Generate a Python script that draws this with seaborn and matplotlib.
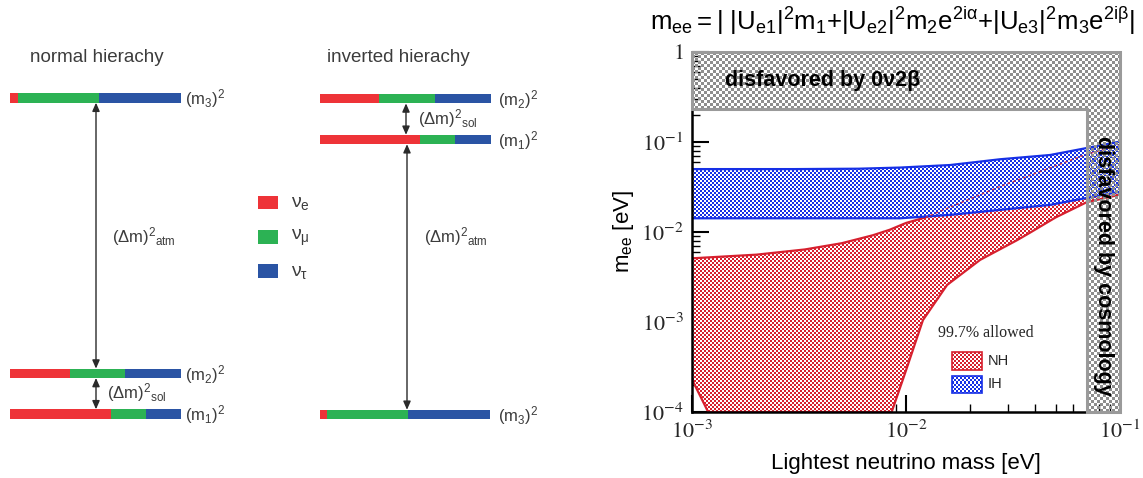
import numpy as np
import matplotlib
matplotlib.use("Agg")
import matplotlib.pyplot as plt
import seaborn as sns
from matplotlib.patches import Polygon, Rectangle
from matplotlib.image import AxesImage
from matplotlib.colors import to_rgb

# ---------------- data ----------------
# flavour content (nu_e, nu_mu, nu_tau) of each mass eigenstate
flavor_names = [r"$\mathrm{\nu_e}$", r"$\mathrm{\nu_\mu}$", r"$\mathrm{\nu_\tau}$"]
content_m1 = [0.59, 0.205, 0.205]
content_m2 = [0.35, 0.325, 0.325]
content_m3 = [0.045, 0.475, 0.48]
state_labels = [r"$\mathrm{(m_1)^2}$", r"$\mathrm{(m_2)^2}$", r"$\mathrm{(m_3)^2}$"]
splitting_labels = [r"$\mathrm{(\Delta m)^2{}_{sol}}$", r"$\mathrm{(\Delta m)^2{}_{atm}}$"]
hierarchy_titles = ["normal hierachy", "inverted hierachy"]

# m_ee allowed regions (eV) vs lightest neutrino mass (eV)
ih_mlight = [1e-3, 3e-3, 6e-3, 9.4e-3, 1.61e-2, 2.75e-2, 4.71e-2, 6.86e-2, 1e-1]
ih_mee_low = [0.0142, 0.0142, 0.0142, 0.0142, 0.0155, 0.0176, 0.0200, 0.0237, 0.0280]
ih_mee_high = [0.0500, 0.0500, 0.0505, 0.0520, 0.0555, 0.0643, 0.0717, 0.0850, 0.1010]
nh_up_mlight = [1e-3, 2e-3, 3.37e-3, 5.0e-3, 7.0e-3, 8.4e-3, 1.0e-2, 1.23e-2, 2.75e-2, 6.86e-2, 1e-1]
nh_up_mee = [0.0051, 0.0056, 0.0064, 0.0075, 0.0092, 0.0106, 0.0126, 0.0145, 0.0320, 0.0720, 0.0930]
nh_low_mlight = [1e-3, 1.19e-3, 8.57e-3, 9.9e-3, 1.2e-2, 1.556e-2, 2.22e-2, 3.3e-2, 3.79e-2, 5.0e-2, 7.01e-2, 1e-1]
nh_low_mee = [2.3e-4, 1e-4, 1e-4, 2.7e-4, 1.05e-3, 2.58e-3, 4.9e-3, 8.1e-3, 9.8e-3, 0.0145, 0.0215, 0.026]
bb0nu_limit = 0.23   # eV
cosmo_limit = 0.07   # eV
xlims = [1e-3, 1e-1]
ylims = [1e-4, 1.0]
xticks = [1e-3, 1e-2, 1e-1]
xticklabels = [r"$10^{-3}$", r"$10^{-2}$", r"$10^{-1}$"]
yticks = [1e-4, 1e-3, 1e-2, 1e-1, 1.0]
yticklabels = [r"$10^{-4}$", r"$10^{-3}$", r"$10^{-2}$", r"$10^{-1}$", r"$1\enspace$"]

# ---------------- style ----------------
sns.set_theme(style="white")
plt.rcParams["font.family"] = ["Liberation Sans", "DejaVu Sans"]
plt.rcParams["mathtext.fontset"] = "custom"
plt.rcParams["mathtext.rm"] = "Liberation Sans"
plt.rcParams["mathtext.it"] = "Liberation Sans:italic"
plt.rcParams["mathtext.bf"] = "Liberation Sans:bold"

FLAVOR_COLORS = ["#ee3338", "#2cb254", "#2a54a4"]
TXT = "#3c3c3c"
RED = "#d7202e"
BLUE = "#1630e6"
GRAY = "#8e8e8e"
GRAY_EDGE = "#9a9a9a"

fig = plt.figure(figsize=(11.43, 4.78), dpi=100)

# ================= left: level diagrams (pixel-based layout) =================
W, H = 1143, 478
ax0 = fig.add_axes([0, 0, 651 / W, 1])
ax0.set_xlim(0, 651)
ax0.set_ylim(H, 0)
ax0.axis("off")

BAR_W, BAR_H = 171, 9.4
NH_X0, IH_X0 = 10, 319.5
contents = [content_m1, content_m2, content_m3]
nh_levels = [414, 373.3, 98]      # m1, m2, m3
ih_levels = [139.5, 98.7, 414.5]  # m1, m2, m3


def stacked(x0, y, fracs):
    left = x0
    for f, c in zip(fracs, FLAVOR_COLORS):
        ax0.barh(y, f * BAR_W, left=left, height=BAR_H, color=c, lw=0)
        left += f * BAR_W


def darrow(x, y0, y1):
    ax0.annotate("", xy=(x, y0), xytext=(x, y1),
                 arrowprops=dict(arrowstyle="<|-|>,head_length=0.5,head_width=0.22",
                                 color="#2a2a2a", lw=1.0, shrinkA=0, shrinkB=0,
                                 mutation_scale=10))


for i in range(3):
    stacked(NH_X0, nh_levels[i], contents[i])
    stacked(IH_X0, ih_levels[i], contents[i])
    ax0.text(NH_X0 + BAR_W + 4, nh_levels[i] + 1, state_labels[i], fontsize=12,
             color=TXT, va="center", ha="left")
    ax0.text(IH_X0 + BAR_W + 7, ih_levels[i] + 1, state_labels[i], fontsize=12,
             color=TXT, va="center", ha="left")

ax0.text(30, 57, hierarchy_titles[0], fontsize=13.5, color=TXT, va="center", ha="left")
ax0.text(327, 57, hierarchy_titles[1], fontsize=13.5, color=TXT, va="center", ha="left")

# NH arrows
darrow(96, nh_levels[2] + BAR_H / 2, nh_levels[1] - BAR_H / 2)
darrow(96, nh_levels[1] + BAR_H / 2, nh_levels[0] - BAR_H / 2)
ax0.text(112, 237, splitting_labels[1], fontsize=12, color=TXT, va="center", ha="left")
ax0.text(107, 393, splitting_labels[0], fontsize=12, color=TXT, va="center", ha="left")
# IH arrows
darrow(406, ih_levels[1] + BAR_H / 2, ih_levels[0] - BAR_H / 2)
darrow(407, ih_levels[0] + BAR_H / 2, ih_levels[2] - BAR_H / 2)
ax0.text(424, 237, splitting_labels[1], fontsize=12, color=TXT, va="center", ha="left")
ax0.text(418, 119, splitting_labels[0], fontsize=12, color=TXT, va="center", ha="left")

# flavour legend
for k, (name, c) in enumerate(zip(flavor_names, FLAVOR_COLORS)):
    yc = 202.5 + 34.3 * k
    ax0.barh(yc, 20, left=258, height=13.5, color=c, lw=0)
    ax0.text(291, yc + 1, name, fontsize=14, color=TXT, va="center", ha="left")

# ================= right: m_ee vs lightest mass =================
ax = fig.add_axes([692 / W, (H - 412) / H, 428 / W, 360 / H])
ax.set_xscale("log")
ax.set_yscale("log")
ax.set_xlim(*xlims)
ax.set_ylim(*ylims)
ax.set_facecolor("white")

bbox = ax.get_window_extent()
AXW, AXH = bbox.width, bbox.height


def checker(clip, color, cell, zorder, transparent=False):
    nx = int(AXW // cell) + 2
    ny = int(AXH // cell) + 2
    ii, jj = np.meshgrid(np.arange(nx), np.arange(ny))
    mask = (ii + jj) % 2 == 0
    rgba = np.ones((ny, nx, 4))
    rgba[mask, :3] = to_rgb(color)
    if transparent:
        rgba[~mask, 3] = 0.0
    im = AxesImage(ax, interpolation="nearest", origin="lower",
                   extent=(0, nx * cell / AXW, 0, ny * cell / AXH),
                   transform=ax.transAxes, zorder=zorder)
    im.set_data(rgba)
    ax.add_image(im)
    im.set_clip_path(clip)
    return im


# NH region (red)
nh_poly = np.column_stack([np.r_[nh_up_mlight, nh_low_mlight[::-1]],
                           np.r_[nh_up_mee, nh_low_mee[::-1]]])
nh_patch = Polygon(nh_poly, closed=True, transform=ax.transData, fc="none", ec="none")
ax.add_patch(nh_patch)
checker(nh_patch, RED, 2, 1.0)
sns.lineplot(x=nh_up_mlight, y=nh_up_mee, ax=ax, color=RED, lw=1.6, zorder=1.5)
sns.lineplot(x=nh_low_mlight, y=nh_low_mee, ax=ax, color=RED, lw=1.6, zorder=1.5)

# IH region (blue)
ih_poly = np.column_stack([np.r_[ih_mlight, ih_mlight[::-1]],
                           np.r_[ih_mee_high, ih_mee_low[::-1]]])
ih_patch = Polygon(ih_poly, closed=True, transform=ax.transData, fc="none", ec="none")
ax.add_patch(ih_patch)
checker(ih_patch, BLUE, 2, 2.0)
sns.lineplot(x=ih_mlight, y=ih_mee_high, ax=ax, color=BLUE, lw=1.6, zorder=2.2)
sns.lineplot(x=ih_mlight, y=ih_mee_low, ax=ax, color=BLUE, lw=1.6, zorder=2.2)
# NH upper edge seen through the IH band
inside = [i for i, v in enumerate(nh_up_mlight) if v >= 1.23e-2]
ax.plot([nh_up_mlight[i] for i in inside], [nh_up_mee[i] for i in inside],
        color=RED, lw=1.0, ls=(0, (2, 2)), alpha=0.8, zorder=2.3)

# disfavoured regions (gray)
gx0, gx1 = xlims
gy0, gy1 = ylims
gray_xy = [(gx0, bb0nu_limit), (gx0, gy1), (gx1, gy1), (gx1, gy0),
           (cosmo_limit, gy0), (cosmo_limit, bb0nu_limit)]
gray_patch = Polygon(gray_xy, closed=True, transform=ax.transData, fc="none",
                     ec=GRAY_EDGE, lw=2.2, zorder=3.5, clip_on=False)
ax.add_patch(gray_patch)
checker(gray_patch, GRAY, 3, 3.0, transparent=True)

ax.text(0.077, 0.922, "disfavored by 0\u03bd2\u03b2", transform=ax.transAxes,
        fontsize=15.5, fontweight="bold", color="black", ha="left", va="center", zorder=5)
ax.text(0.962, 0.405, "disfavored by cosmology", transform=ax.transAxes,
        fontsize=15.5, fontweight="bold", color="black", ha="center", va="center",
        rotation=-90, zorder=5)

# legend
ax.text(0.575, 0.219, "99.7% allowed", transform=ax.transAxes, fontsize=11.5,
        family="Liberation Serif", ha="left", va="center", zorder=5)
leg_boxes = [(0.118, RED, "NH"), (0.052, BLUE, "IH")]
for yb, col, lab in leg_boxes:
    r = Rectangle((0.607, yb), 0.070, 0.049, transform=ax.transAxes,
                  fc="none", ec=col, lw=1.2, zorder=4.5)
    ax.add_patch(r)
    checker(r, col, 2, 4.0)
    ax.text(0.691, yb + 0.0245, lab, transform=ax.transAxes, fontsize=10.5,
            ha="left", va="center", zorder=5)

# axes / ticks
for s in ["top", "right"]:
    ax.spines[s].set_visible(False)
for s in ["left", "bottom"]:
    ax.spines[s].set_color("black")
    ax.spines[s].set_linewidth(1.8)
ax.tick_params(which="major", direction="in", length=12, width=1.5, color="black",
               left=True, bottom=True, top=False, right=False, pad=6)
ax.tick_params(which="minor", direction="in", length=6, width=1.0, color="black",
               left=True, bottom=True, top=False, right=False)
ax.set_xticks(xticks)
ax.set_xticklabels(xticklabels, fontsize=16, math_fontfamily="stix",
                   family="Liberation Serif")
ax.set_yticks(yticks)
ax.set_yticklabels(yticklabels, fontsize=16, math_fontfamily="stix",
                   family="Liberation Serif")
ax.yaxis.set_minor_formatter(matplotlib.ticker.NullFormatter())
ax.xaxis.set_minor_formatter(matplotlib.ticker.NullFormatter())
ax.set_xlim(*xlims)
ax.set_ylim(*ylims)
ax.grid(False)

ax.set_xlabel("Lightest neutrino mass [eV]", fontsize=16, color="black")
ax.xaxis.set_label_coords(0.5, -0.113)
ax.set_ylabel(r"$\mathrm{m_{ee}}$ [eV]", fontsize=16, color="black")
ax.yaxis.set_label_coords(-0.131, 0.5)

fig.text(892 / W, 1 - 21 / H,
         r"$\mathrm{m_{ee}{=}|\ |U_{e1}|^2m_1{+}|U_{e2}|^2m_2e^{2i\alpha}{+}|U_{e3}|^2m_3e^{2i\beta}|}$",
         fontsize=18.5, ha="center", va="center", color="black")

fig.savefig("out.png", dpi=100)
